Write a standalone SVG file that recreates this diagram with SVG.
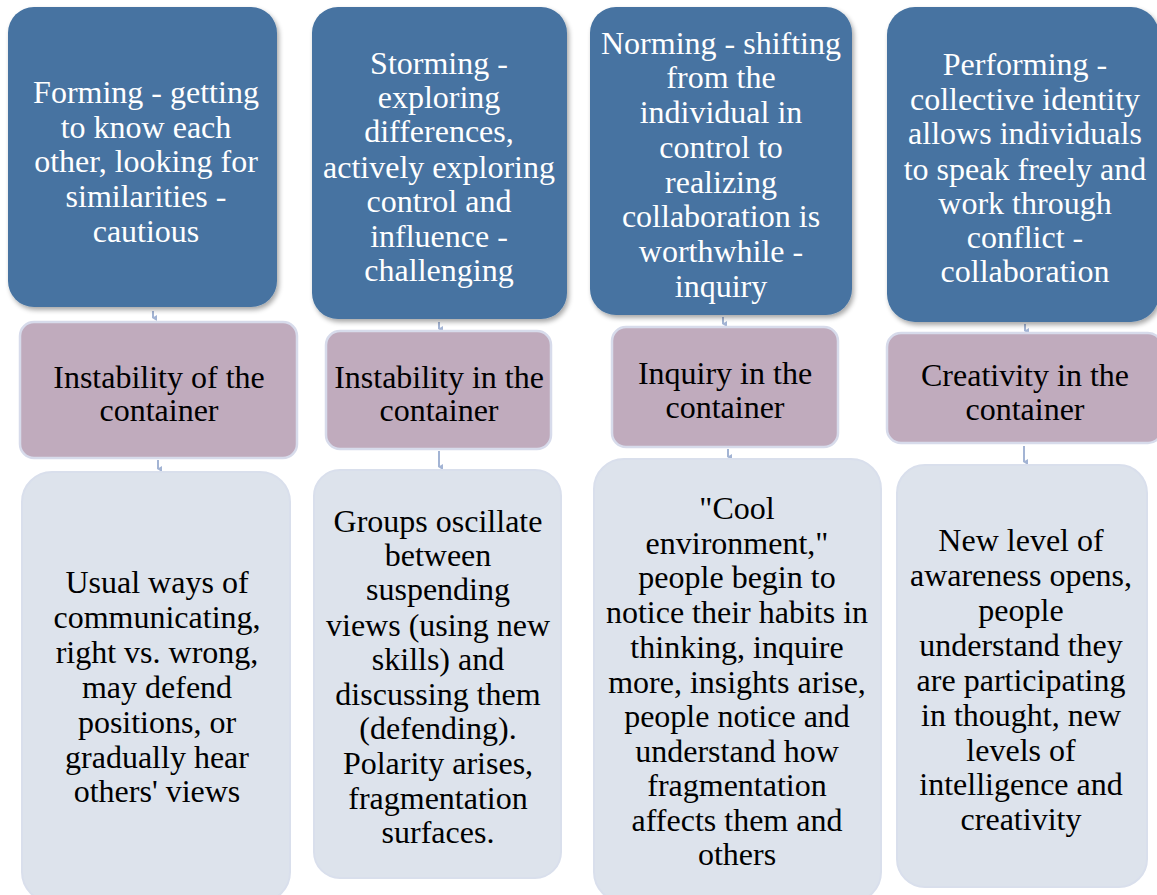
<svg xmlns="http://www.w3.org/2000/svg" width="1157" height="895" viewBox="0 0 1157 895">
  <defs>
    <filter id="shadow" x="-10%" y="-10%" width="125%" height="125%">
      <feGaussianBlur in="SourceAlpha" stdDeviation="2.5"/>
      <feOffset dx="2" dy="3" result="b"/>
      <feComponentTransfer><feFuncA type="linear" slope="0.35"/></feComponentTransfer>
      <feMerge><feMergeNode/><feMergeNode in="SourceGraphic"/></feMerge>
    </filter>
    <marker id="tip" viewBox="0 0 6 6" refX="3" refY="5" markerWidth="6" markerHeight="6" orient="auto-start-reverse" markerUnits="userSpaceOnUse">
      <path d="M0,1 L6,1 L3,6 Z" fill="#a3b4d4"/>
    </marker>
  </defs>
  <style>
    text { font-family: "Liberation Serif", "Times New Roman", serif; font-size: 32px; text-anchor: middle; }
    .stage rect { fill: #4673a1; filter: url(#shadow); }
    .stage text { fill: #ffffff; }
    .state rect { fill: #c0abbd; stroke: #d7dbeb; stroke-width: 2.5; }
    .state text { fill: #000000; }
    .detail rect { fill: #dde3ec; stroke: #d9dfec; stroke-width: 2; }
    .detail text { fill: #000000; }
    .link { stroke: #a3b4d4; stroke-width: 2; fill: none; }
  </style>

  <rect width="1157" height="895" fill="#ffffff"/>

  <!-- connectors -->
  <g id="connectors">
    <line class="link" x1="153" y1="311" x2="153" y2="318" marker-end="url(#tip)"/>
    <line class="link" x1="158" y1="460" x2="158" y2="469" marker-end="url(#tip)"/>
    <line class="link" x1="439" y1="322" x2="439" y2="329" marker-end="url(#tip)"/>
    <line class="link" x1="439" y1="451" x2="439" y2="467" marker-end="url(#tip)"/>
    <line class="link" x1="723" y1="317" x2="723" y2="324" marker-end="url(#tip)"/>
    <line class="link" x1="728" y1="449" x2="728" y2="457" marker-end="url(#tip)"/>
    <line class="link" x1="1025" y1="324" x2="1025" y2="331" marker-end="url(#tip)"/>
    <line class="link" x1="1024" y1="446" x2="1024" y2="462" marker-end="url(#tip)"/>
  </g>

  <!-- column 1: Forming -->
  <g id="forming" class="stage">
    <rect x="8" y="7" width="269" height="300" rx="26"/>
    <text x="146" y="103">Forming - getting</text>
    <text x="146" y="138">to know each</text>
    <text x="146" y="172">other, looking for</text>
    <text x="146" y="207">similarities -</text>
    <text x="146" y="242">cautious</text>
  </g>
  <g id="instability-of" class="state">
    <rect x="20" y="322" width="277" height="136" rx="14"/>
    <text x="159" y="388">Instability of the</text>
    <text x="159" y="421">container</text>
  </g>
  <g id="detail-forming" class="detail">
    <rect x="22" y="472" width="268" height="430" rx="30"/>
    <text x="157" y="593">Usual ways of</text>
    <text x="157" y="628">communicating,</text>
    <text x="157" y="663">right vs. wrong,</text>
    <text x="157" y="698">may defend</text>
    <text x="157" y="733">positions, or</text>
    <text x="157" y="768">gradually hear</text>
    <text x="157" y="802">others' views</text>
  </g>

  <!-- column 2: Storming -->
  <g id="storming" class="stage">
    <rect x="312" y="7" width="255" height="312" rx="26"/>
    <text x="439" y="74">Storming -</text>
    <text x="439" y="108">exploring</text>
    <text x="439" y="142">differences,</text>
    <text x="439" y="178">actively exploring</text>
    <text x="439" y="212">control and</text>
    <text x="439" y="247">influence -</text>
    <text x="439" y="281">challenging</text>
  </g>
  <g id="instability-in" class="state">
    <rect x="326" y="331" width="225" height="118" rx="14"/>
    <text x="439" y="388">Instability in the</text>
    <text x="439" y="421">container</text>
  </g>
  <g id="detail-storming" class="detail">
    <rect x="314" y="470" width="247" height="408" rx="26"/>
    <text x="438" y="532">Groups oscillate</text>
    <text x="438" y="566">between</text>
    <text x="438" y="600">suspending</text>
    <text x="438" y="636">views (using new</text>
    <text x="438" y="670">skills) and</text>
    <text x="438" y="705">discussing them</text>
    <text x="438" y="739">(defending).</text>
    <text x="438" y="774">Polarity arises,</text>
    <text x="438" y="809">fragmentation</text>
    <text x="438" y="843">surfaces.</text>
  </g>

  <!-- column 3: Norming -->
  <g id="norming" class="stage">
    <rect x="590" y="7" width="262" height="308" rx="26"/>
    <text x="721" y="54">Norming - shifting</text>
    <text x="721" y="88">from the</text>
    <text x="721" y="123">individual in</text>
    <text x="721" y="158">control to</text>
    <text x="721" y="193">realizing</text>
    <text x="721" y="227">collaboration is</text>
    <text x="721" y="262">worthwhile -</text>
    <text x="721" y="297">inquiry</text>
  </g>
  <g id="inquiry" class="state">
    <rect x="612" y="327" width="226" height="120" rx="14"/>
    <text x="725" y="384">Inquiry in the</text>
    <text x="725" y="418">container</text>
  </g>
  <g id="detail-norming" class="detail">
    <rect x="594" y="459" width="287" height="443" rx="30"/>
    <text x="737" y="519">"Cool</text>
    <text x="737" y="554">environment,"</text>
    <text x="737" y="588">people begin to</text>
    <text x="737" y="623">notice their habits in</text>
    <text x="737" y="658">thinking, inquire</text>
    <text x="737" y="693">more, insights arise,</text>
    <text x="737" y="727">people notice and</text>
    <text x="737" y="762">understand how</text>
    <text x="737" y="796">fragmentation</text>
    <text x="737" y="831">affects them and</text>
    <text x="737" y="865">others</text>
  </g>

  <!-- column 4: Performing -->
  <g id="performing" class="stage">
    <rect x="887" y="7" width="272" height="315" rx="28"/>
    <text x="1025" y="75">Performing -</text>
    <text x="1025" y="110">collective identity</text>
    <text x="1025" y="144">allows individuals</text>
    <text x="1025" y="180">to speak freely and</text>
    <text x="1025" y="214">work through</text>
    <text x="1025" y="248">conflict -</text>
    <text x="1025" y="282">collaboration</text>
  </g>
  <g id="creativity" class="state">
    <rect x="887" y="333" width="275" height="110" rx="14"/>
    <text x="1025" y="386">Creativity in the</text>
    <text x="1025" y="420">container</text>
  </g>
  <g id="detail-performing" class="detail">
    <rect x="897" y="465" width="250" height="422" rx="28"/>
    <text x="1021" y="551">New level of</text>
    <text x="1021" y="586">awareness opens,</text>
    <text x="1021" y="621">people</text>
    <text x="1021" y="656">understand they</text>
    <text x="1021" y="691">are participating</text>
    <text x="1021" y="726">in thought, new</text>
    <text x="1021" y="761">levels of</text>
    <text x="1021" y="795">intelligence and</text>
    <text x="1021" y="830">creativity</text>
  </g>
</svg>
